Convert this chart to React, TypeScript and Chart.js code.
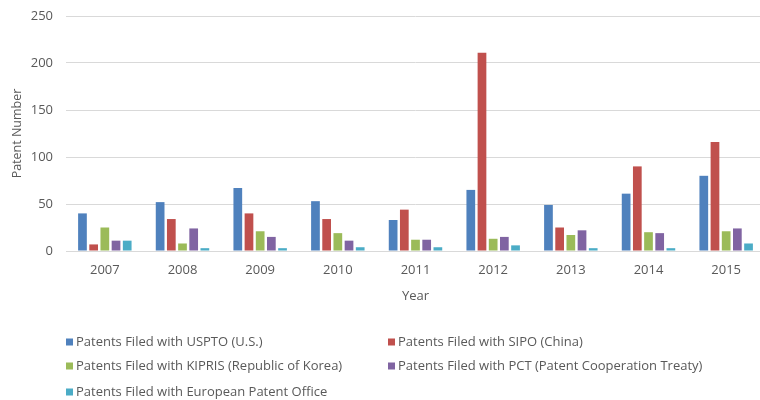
import React, { useEffect, useRef } from "react";
import { Chart, registerables } from "chart.js";

Chart.register(...registerables);

const years = ["2007", "2008", "2009", "2010", "2011", "2012", "2013", "2014", "2015"];
const uspto = [40, 52, 67, 53, 33, 65, 49, 61, 80];
const sipo = [7, 34, 40, 34, 44, 211, 25, 90, 116];
const kipris = [25, 8, 21, 19, 12, 13, 17, 20, 21];
const pct = [11, 24, 15, 11, 12, 15, 22, 19, 24];
const epo = [11, 3, 3, 4, 4, 6, 3, 3, 8];
const seriesNames = [
  "Patents Filed with USPTO (U.S.)",
  "Patents Filed with SIPO (China)",
  "Patents Filed with KIPRIS (Republic of Korea)",
  "Patents Filed with PCT (Patent Cooperation Treaty)",
  "Patents Filed with European Patent Office",
];
const seriesColors = ["#4F81BD", "#C0504D", "#9BBB59", "#8064A2", "#4BACC6"];
const yTicks = [0, 50, 100, 150, 200, 250];

const FONT = "'Open Sans', 'Noto Sans', sans-serif";
const TEXT = "#595959";

const legendPlugin = {
  id: "gridLegend",
  afterDraw(chart: any) {
    const ctx = chart.ctx;
    const colX = [66, 388];
    const rowY = [342, 366, 392];
    ctx.save();
    ctx.font = `13px ${FONT}`;
    ctx.textBaseline = "middle";
    ctx.textAlign = "left";
    chart.data.datasets.forEach((ds: any, i: number) => {
      const x = colX[i % 2];
      const y = rowY[Math.floor(i / 2)];
      ctx.fillStyle = ds.backgroundColor;
      ctx.fillRect(x, y - 3.5, 7, 7);
      ctx.fillStyle = TEXT;
      ctx.fillText(ds.label, x + 10, y);
    });
    ctx.restore();
  },
};

export default function App() {
  const ref = useRef<HTMLCanvasElement>(null);
  useEffect(() => {
    if (!ref.current) return;
    const data = [uspto, sipo, kipris, pct, epo];
    const chart = new Chart(ref.current, {
      type: "bar",
      data: {
        labels: years,
        datasets: data.map((d, i) => ({
          label: seriesNames[i],
          data: d,
          backgroundColor: seriesColors[i],
          borderWidth: 0,
          categoryPercentage: 0.72,
          barPercentage: 0.78,
        })),
      },
      options: {
        responsive: false,
        animation: false,
        layout: { padding: { top: 16, right: 5, bottom: 94, left: 0 } },
        plugins: {
          legend: { display: false },
          tooltip: { enabled: false },
        },
        scales: {
          x: {
            grid: { display: false, drawTicks: false },
            border: { display: true, color: "#d9d9d9" },
            ticks: { color: TEXT, font: { family: FONT, size: 13 }, padding: 11 },
            title: {
              display: true,
              text: "Year",
              color: TEXT,
              font: { family: FONT, size: 13 },
              padding: { top: 0, bottom: 2 },
            },
            afterFit(scale: any) {
              scale.height = 55;
              scale.paddingLeft = 0;
              scale.paddingRight = 0;
            },
          },
          y: {
            min: 0,
            max: 250,
            afterBuildTicks(scale: any) {
              scale.ticks = yTicks.map((v) => ({ value: v }));
            },
            grid: { color: "#d9d9d9", drawTicks: false },
            border: { display: false },
            ticks: { color: TEXT, font: { family: FONT, size: 13 }, padding: 13 },
            title: {
              display: true,
              text: "Patent Number",
              color: TEXT,
              font: { family: FONT, size: 12.5 },
              padding: { top: 10, bottom: 0 },
            },
            afterFit(scale: any) {
              scale.width = 66;
              scale.paddingTop = 0;
              scale.paddingBottom = 0;
            },
          },
        },
      },
      plugins: [legendPlugin],
    });
    return () => chart.destroy();
  }, []);
  return (
    <div style={{ position: "fixed", left: 0, top: 0, width: 760, height: 400, overflow: "hidden", background: "#fff" }}>
      <canvas ref={ref} width={770} height={400} />
    </div>
  );
}
